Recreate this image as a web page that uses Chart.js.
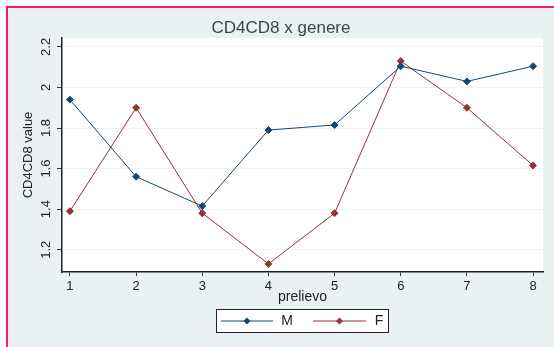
<!DOCTYPE html>
<html>
<head>
<meta charset="utf-8">
<script src="https://cdn.jsdelivr.net/npm/chart.js@4.4.0/dist/chart.umd.min.js"></script>
<style>
  html, body { margin: 0; padding: 0; background: #fff; }
  #wrap { width: 554px; height: 347px; }
</style>
</head>
<body>
<div id="wrap"><canvas id="cdChart" width="554" height="347"></canvas></div>
<script>
const prelievi = [1, 2, 3, 4, 5, 6, 7, 8];
const valoriM = [1.94, 1.56, 1.415, 1.79, 1.815, 2.105, 2.03, 2.105];
const valoriF = [1.39, 1.90, 1.38, 1.13, 1.38, 2.13, 1.90, 1.615];
const yTicks = [1.2, 1.4, 1.6, 1.8, 2, 2.2];

const FONT = "'Liberation Sans', Arial, sans-serif";
const NAVY = "#1a476f";
const MAROON = "#90353b";

const toPoints = (vals) => vals.map((v, i) => ({ x: prelievi[i], y: v }));

// background, pink frame, title, y labels, axis titles and legend
const stataLook = {
  id: "stataLook",
  beforeDraw(chart) {
    const c = chart.ctx;
    const a = chart.chartArea;
    c.save();
    c.fillStyle = "#ffffff";
    c.fillRect(0, 0, chart.width, chart.height);
    c.fillStyle = "#eaf1f3";
    c.fillRect(8, 8, chart.width - 8, chart.height - 8);
    c.fillStyle = "#ff1469";
    c.fillRect(6, 6, 2, chart.height - 6);
    c.fillRect(6, 6, chart.width - 6, 2);
    c.fillStyle = "#ffffff";
    c.fillRect(a.left, a.top, a.right - a.left, a.bottom - a.top);
    c.restore();
  },
  afterDraw(chart) {
    const c = chart.ctx;
    const a = chart.chartArea;
    const y = chart.scales.y;
    c.save();
    // title
    c.fillStyle = "#3e4447";
    c.font = "17px " + FONT;
    c.textAlign = "center";
    c.textBaseline = "middle";
    c.fillText("CD4CD8 x genere", 281, 28);

    // rotated y tick labels
    c.fillStyle = "#222";
    c.font = "13px " + FONT;
    yTicks.forEach((v) => {
      c.save();
      c.translate(46, y.getPixelForValue(v));
      c.rotate(-Math.PI / 2);
      c.fillText(String(v), 0, 0);
      c.restore();
    });
    // y title
    c.save();
    c.translate(28, (a.top + a.bottom) / 2);
    c.rotate(-Math.PI / 2);
    c.font = "13px " + FONT;
    c.fillText("CD4CD8 value", 0, 0);
    c.restore();
    // x title
    c.font = "14px " + FONT;
    c.fillText("prelievo", (a.left + a.right) / 2, 297);

    // legend
    const lx = 216, ly = 309, lw = 172, lh = 23;
    c.fillStyle = "#ffffff";
    c.fillRect(lx, ly, lw, lh);
    c.strokeStyle = "#222";
    c.lineWidth = 1;
    c.strokeRect(lx + 0.5, ly + 0.5, lw, lh);
    const cy = ly + lh / 2 + 0.5;
    const items = [
      { x0: 221, x1: 273, tx: 287 },
      { x0: 313, x1: 366, tx: 379 },
    ];
    chart.data.datasets.forEach((ds, i) => {
      const it = items[i];
      c.strokeStyle = ds.borderColor;
      c.beginPath();
      c.moveTo(it.x0, cy);
      c.lineTo(it.x1, cy);
      c.stroke();
      const mx = (it.x0 + it.x1) / 2;
      c.fillStyle = ds.pointBackgroundColor;
      c.beginPath();
      c.moveTo(mx, cy - 3.5);
      c.lineTo(mx + 3.5, cy);
      c.lineTo(mx, cy + 3.5);
      c.lineTo(mx - 3.5, cy);
      c.closePath();
      c.fill();
      c.fillStyle = "#222";
      c.font = "14px " + FONT;
      c.fillText(ds.label, it.tx, cy);
    });
    c.restore();
  },
};

const ctx = document.getElementById("cdChart").getContext("2d");
const cdChart = new Chart(ctx, {
  type: "line",
  data: {
    datasets: [
      {
        label: "M",
        data: toPoints(valoriM),
        borderColor: NAVY,
        backgroundColor: NAVY,
        pointBackgroundColor: NAVY,
        pointBorderColor: NAVY,
        borderWidth: 1,
        pointStyle: "rectRot",
        pointRadius: 3.5,
        tension: 0,
      },
      {
        label: "F",
        data: toPoints(valoriF),
        borderColor: MAROON,
        backgroundColor: MAROON,
        pointBackgroundColor: MAROON,
        pointBorderColor: MAROON,
        borderWidth: 1,
        pointStyle: "rectRot",
        pointRadius: 3.5,
        tension: 0,
      },
    ],
  },
  options: {
    responsive: false,
    animation: false,
    layout: { padding: { left: 0, right: 11, top: 38, bottom: 0 } },
    plugins: {
      legend: { display: false },
      title: { display: false },
      tooltip: { enabled: false },
    },
    scales: {
      x: {
        type: "linear",
        min: 0.88,
        max: 8.15,
        afterBuildTicks: (s) => { s.ticks = prelievi.map((v) => ({ value: v })); },
        afterFit: (s) => { s.height = 75; },
        grid: {
          drawOnChartArea: false,
          tickLength: 4,
          tickColor: "#333",
        },
        border: { color: "#222", width: 1.5 },
        ticks: {
          color: "#222",
          font: { family: FONT, size: 13 },
          padding: 3,
          maxRotation: 0,
        },
      },
      y: {
        min: 1.09,
        max: 2.244,
        afterBuildTicks: (s) => { s.ticks = yTicks.map((v) => ({ value: v })); },
        afterFit: (s) => { s.width = 62; },
        grid: {
          color: "#edf3f4",
          tickLength: 5,
          tickColor: "#333",
        },
        border: { color: "#222", width: 1.5 },
        ticks: { display: false },
      },
    },
  },
  plugins: [stataLook],
});
</script>
</body>
</html>
